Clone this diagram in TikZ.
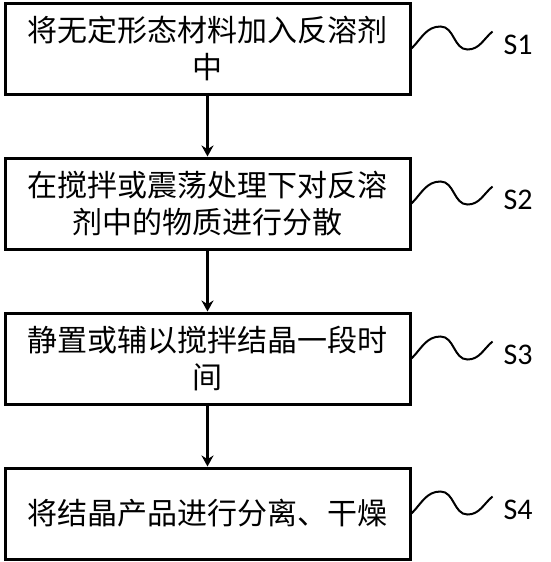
\documentclass[tikz,border=0pt]{standalone}
\usepackage{fontspec}
\newfontfamily\cjk{Noto Sans CJK SC}
\newfontfamily\lbl{Carlito}
\usetikzlibrary{arrows.meta,positioning}

\begin{document}
\begin{tikzpicture}[x=1pt,y=1pt,
				boxes/.style={draw, rectangle,%
                line width=3pt, minimum height=91pt,
                minimum width=405pt, black, text=black,
                anchor=center, align=center,
                font=\cjk\fontsize{30}{37}\selectfont},
                flow/.style={line width=3pt, black, -{Stealth[length=11pt,width=12pt]}},
    			% squiggle and step label
    			wave/.style={line width=2pt, black},
    			steplbl/.style={anchor=west, font=\lbl\fontsize{30}{32}\selectfont, inner sep=0pt}
    			]
\useasboundingbox (0,0) rectangle (551,-562);

%% Boxes
\node [boxes] (s1) at (207.5,-48.5) {将无定形态材料加入反溶剂\\中};
\node [boxes, below=61pt of s1] (s2) {在搅拌或震荡处理下对反溶\\剂中的物质进行分散};
\node [boxes, below=61pt of s2] (s3) {静置或辅以搅拌结晶一段时\\间};
\node [boxes, below=61pt of s3] (s4) {将结晶产品进行分离、干燥};

%% Arrows
\draw [flow] (s1)--(s2);
\draw [flow] (s2)--(s3);
\draw [flow] (s3)--(s4);

%% Step labels with squiggles
\foreach \n in {1,2,3,4}{
  \node [steplbl] (l\n) at ([xshift=92pt,yshift=4pt]s\n.east) {S\n};
  \draw [wave] (s\n.east) to[out=45,in=180] ++(29,22) to[out=0,in=180] ++(27,-23) to[out=0,in=220] ++(25,18);
}

\end{tikzpicture}
\end{document}
